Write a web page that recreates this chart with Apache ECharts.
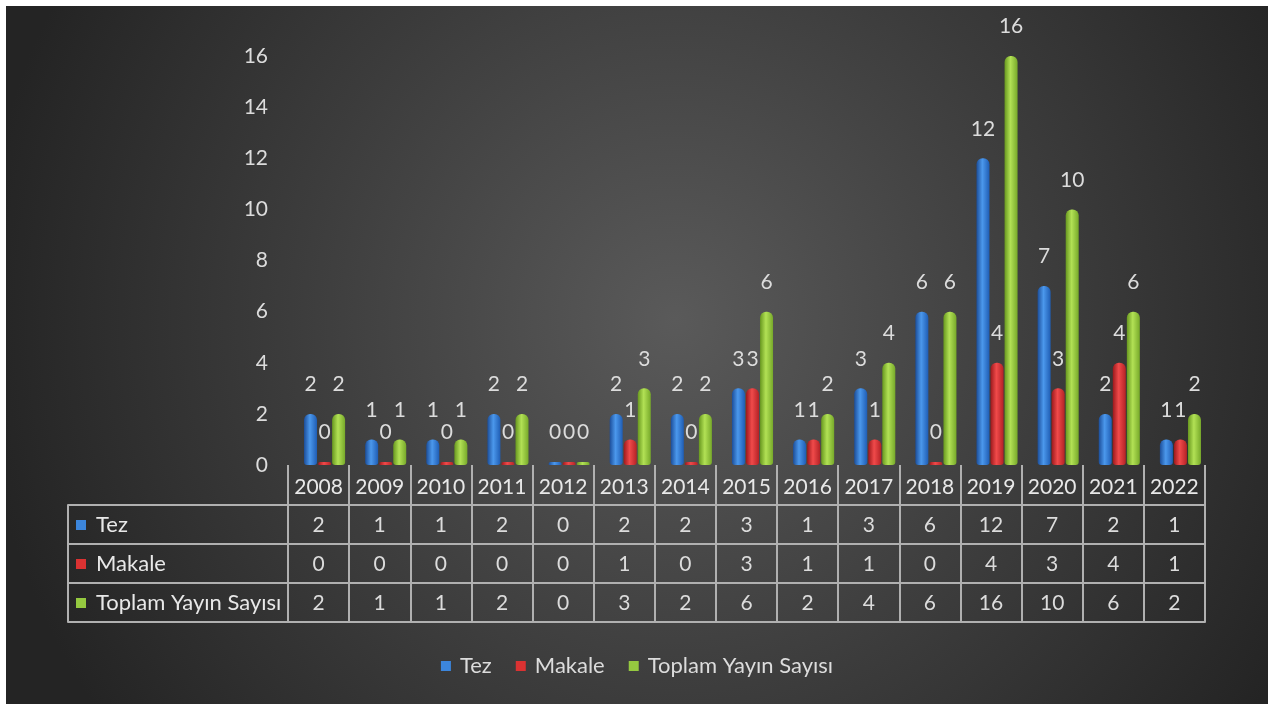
<!DOCTYPE html>
<html>
<head>
<meta charset="utf-8">
<script src="https://cdn.jsdelivr.net/npm/echarts@6/dist/echarts.min.js"></script>
<style>
  html, body { margin: 0; background: #ffffff; width: 1279px; height: 704px; overflow: hidden; }
  #chart { position: absolute; left: 6px; top: 6px; width: 1262px; height: 698px; }
</style>
</head>
<body>
<div id="chart"></div>
<script>
// Publications per year
const years = ['2008','2009','2010','2011','2012','2013','2014','2015','2016','2017','2018','2019','2020','2021','2022'];
const tez = [2, 1, 1, 2, 0, 2, 2, 3, 1, 3, 6, 12, 7, 2, 1];
const makale = [0, 0, 0, 0, 0, 1, 0, 3, 1, 1, 0, 4, 3, 4, 1];
const toplam = [2, 1, 1, 2, 0, 3, 2, 6, 2, 4, 6, 16, 10, 6, 2];
const seriesNames = ['Tez', 'Makale', 'Toplam Yayın Sayısı'];
const seriesValues = [tez, makale, toplam];
const yMin = 0, yMax = 16, yStep = 2;

const FONT = 'Lato, "Open Sans", sans-serif';
const TEXT = '#dcdcdc';
const RULE = '#b0b0b0';
const NUM_SIZE = 21;
const NAME_SIZE = 22;

// cylinder-like shading across each bar
function shade(edgeL, mid, edgeR) {
  return new echarts.graphic.LinearGradient(0, 0, 1, 0, [
    { offset: 0, color: edgeL },
    { offset: 0.45, color: mid },
    { offset: 1, color: edgeR }
  ]);
}
const fills = [
  shade('#1c4e9a', '#4b98ec', '#1f5db4'),
  shade('#9c191c', '#f04a4a', '#b42226'),
  shade('#68981f', '#b2e155', '#77a92a')
];
const swatch = ['#3c86dc', '#da3232', '#95c940'];

// table rows under the plot: axis offsets below the baseline
const rowTop = [40, 79, 118];
const rowH = 39;
const tableBottom = 157;

const chart = echarts.init(document.getElementById('chart'));

const line = { onZero: false, show: true, lineStyle: { color: RULE, width: 2 } };
const xAxes = [];
// year row
xAxes.push({
  type: 'category', gridIndex: 0, position: 'bottom', data: years,
  axisLine: { onZero: false, show: false },
  axisTick: { show: true, length: 40, interval: 0, lineStyle: { color: RULE, width: 2 } },
  axisLabel: { interval: 0, color: '#e8e8e8', fontSize: NUM_SIZE, fontFamily: FONT, margin: 12 }
});
// value rows
seriesValues.forEach((vals, i) => {
  xAxes.push({
    type: 'category', gridIndex: 0, position: 'bottom', offset: rowTop[i],
    data: vals.map(String),
    axisLine: line,
    axisTick: { show: true, length: rowH, interval: 0, lineStyle: { color: RULE, width: 2 } },
    axisLabel: { interval: 0, color: TEXT, fontSize: NUM_SIZE, fontFamily: FONT, margin: 10 }
  });
});
// closing line of the table
xAxes.push({
  type: 'category', gridIndex: 0, position: 'bottom', offset: tableBottom, data: years,
  axisLine: line, axisTick: { show: false }, axisLabel: { show: false }
});
// row header column
const headRich = {
  p: { width: 8, align: 'left' },
  s: { width: 10, align: 'left' },
  t: { width: 192, align: 'left', color: '#e8e8e8', fontSize: NAME_SIZE, fontFamily: FONT }
};
swatch.forEach((c, i) => {
  headRich['m' + i] = { width: 10, height: 10, align: 'left', backgroundColor: c };
});
seriesNames.forEach((name, i) => {
  xAxes.push({
    type: 'category', gridIndex: 1, position: 'bottom', offset: rowTop[i], data: [name],
    axisLine: line,
    axisTick: { show: true, length: rowH, interval: 0, lineStyle: { color: RULE, width: 2 } },
    axisLabel: {
      interval: 0, margin: 9,
      formatter: (v) => '{p|}{m' + i + '|}{s|}{t|' + v + '}',
      rich: headRich
    }
  });
});
xAxes.push({
  type: 'category', gridIndex: 1, position: 'bottom', offset: tableBottom, data: [''],
  axisLine: line, axisTick: { show: false }, axisLabel: { show: false }
});
// bar layer: same categories, drawn slightly to the right like the depth of the columns
xAxes.push({ type: 'category', gridIndex: 2, data: years, show: false });

const series = seriesValues.map((vals, i) => ({
  name: seriesNames[i],
  type: 'bar',
  xAxisIndex: xAxes.length - 1, yAxisIndex: 2,
  data: vals,
  barWidth: 13,
  barGap: '8%',
  barMinHeight: 3,
  itemStyle: { color: fills[i], borderRadius: [6, 6, 3, 3] },
  label: {
    show: true, position: 'top', distance: 19,
    color: TEXT, fontSize: NUM_SIZE, fontFamily: FONT
  }
}));

chart.setOption({
  backgroundColor: {
    type: 'radial', x: 0.53, y: 0.45, r: 1.0,
    colorStops: [
      { offset: 0, color: '#5a5a5a' },
      { offset: 0.55, color: '#3c3c3c' },
      { offset: 1, color: '#242424' }
    ]
  },
  animation: false,
  textStyle: { fontFamily: FONT },
  grid: [
    { left: 282, right: 63, top: 50, bottom: 239 },
    { left: 62, width: 220, top: 50, bottom: 239 },
    { left: 288, right: 57, top: 50, bottom: 239 }
  ],
  legend: {
    bottom: 22, left: 'center',
    itemWidth: 10, itemHeight: 10, itemGap: 24,
    icon: 'rect',
    textStyle: { color: TEXT, fontSize: NAME_SIZE, fontFamily: FONT, padding: [0, 0, 0, 4] },
    data: seriesNames.map((n, i) => ({ name: n, itemStyle: { color: swatch[i] } }))
  },
  xAxis: xAxes,
  yAxis: [
    {
      type: 'value', gridIndex: 0, min: yMin, max: yMax, interval: yStep,
      axisLine: { show: false }, axisTick: { show: false }, splitLine: { show: false },
      axisLabel: { color: TEXT, fontSize: NUM_SIZE, fontFamily: FONT, margin: 20 }
    },
    { type: 'value', gridIndex: 1, show: false, min: 0, max: 1 },
    { type: 'value', gridIndex: 2, show: false, min: yMin, max: yMax, interval: yStep }
  ],
  series: series
});
</script>
</body>
</html>
